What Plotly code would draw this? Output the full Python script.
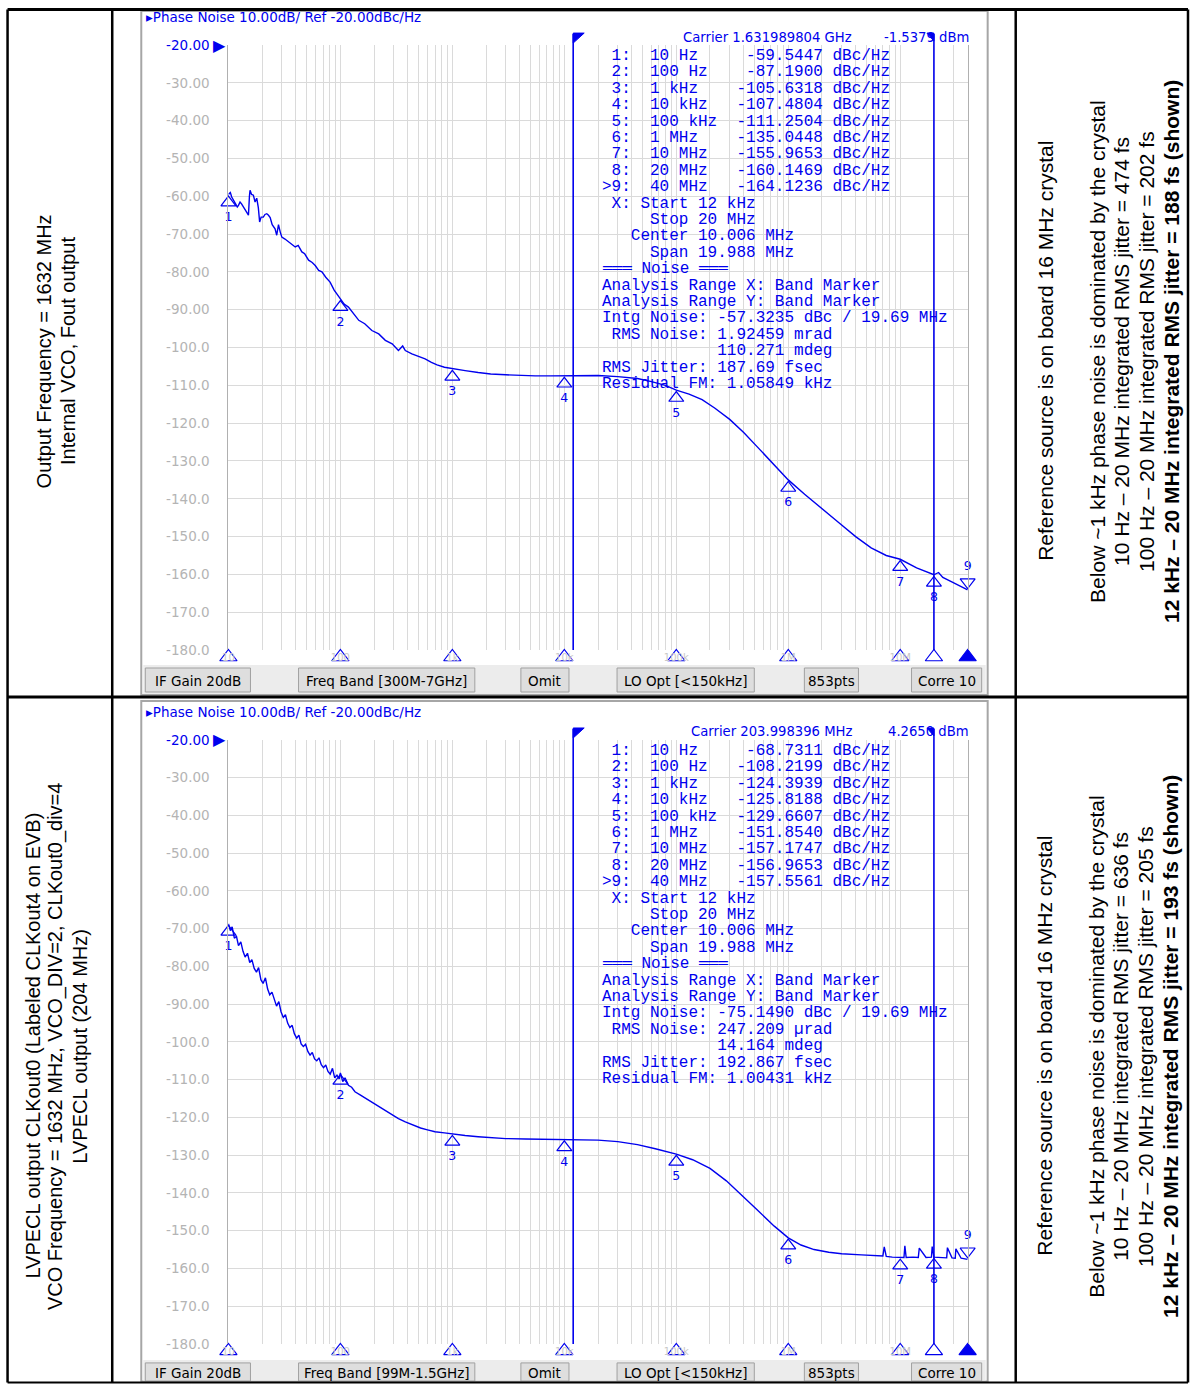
import plotly.graph_objects as go

W, H = 1190, 1391
# the page is captured with the 8px body margin and fitted back into W x H
SX, SY, M = 1190 / 1198, 1391 / 1407, 8


def px(x):
    return (x / SX - M) / W


def py(y):
    return 1 - (y / SY - M) / H


# ---------------- data ----------------
top_freq = [10, 10.4, 10.7, 11.1, 11.5, 12.0, 12.3, 12.7, 13.1, 13.6, 14.1, 14.6, 15.1, 15.4, 15.6,
            16.1, 16.7, 17.3, 17.9, 18.5, 19.0, 19.6, 20.5, 21.2, 22.0, 22.8, 23.6, 24.6, 26.1, 27.0,
            28.0, 29.0, 30.0, 32.0, 34.4, 36.5, 39.5, 42, 45.3, 48, 52, 56, 59.6, 64, 68.4, 74, 80.9,
            88, 96.3, 100, 108, 118, 130, 146, 165, 191, 220, 252, 290, 330, 360, 380, 435, 500, 571,
            650, 730, 850, 1000, 1300, 1700, 2200, 3000, 4000, 5500, 7500, 10000, 15000, 20000, 30000,
            45000, 60000, 80000, 100000, 130000, 170000, 220000, 300000, 400000, 550000, 750000,
            1000000, 1400000, 2000000, 2800000, 4000000, 5500000, 7500000, 10000000, 14000000,
            20000000, 22000000, 24000000, 28000000, 33000000, 37000000, 40000000]
top_dbc = [-59.5, -59.0, -60.2, -61.0, -61.9, -62.8, -62.4, -61.5, -62.0, -62.8, -63.3, -64.0, -65.0,
           -60.0, -58.4, -59.5, -59.7, -61.5, -60.5, -63.0, -66.8, -65.5, -65.5, -64.8, -64.6, -65.0,
           -65.6, -67.5, -68.6, -70.3, -67.5, -69.4, -70.8, -71.3, -72.1, -72.5, -73.4, -73.0, -74.7,
           -75.2, -76.9, -77.5, -78.3, -79.6, -80.0, -81.4, -82.7, -84.8, -86.5, -87.2, -88.5, -89.3,
           -91.0, -92.8, -93.7, -95.5, -96.4, -98.1, -99.0, -100.8, -99.6, -100.8, -101.7, -102.3,
           -103.0, -103.9, -104.6, -105.2, -105.6, -106.1, -106.6, -107.0, -107.2, -107.4, -107.5,
           -107.5, -107.5, -107.4, -107.4, -107.7, -108.2, -109.0, -110.0, -111.25, -112.3, -113.8,
           -116.0, -119.0, -122.5, -126.8, -131.0, -135.0, -138.8, -142.5, -146.2, -150.0, -153.0,
           -155.0, -156.0, -158.3, -160.1, -159.5, -160.8, -161.8, -162.8, -163.5, -164.1]

bot_freq = [10, 10.4, 10.8, 11.3, 11.8, 12.3, 12.9, 13.5, 14.1, 14.8, 15.5, 16.2, 17.0, 17.8, 18.6,
            19.5, 20.4, 21.4, 22.4, 23.4, 24.5, 25.7, 26.9, 28.2, 29.5, 30.9, 32.3, 33.8, 35.4, 37.1,
            38.8, 40.7, 42.6, 44.6, 46.7, 48.9, 51.2, 53.6, 56.1, 58.8, 61.5, 64.4, 67.5, 70.7, 74,
            77.5, 81.1, 85, 89, 93.2, 97.6, 100, 105, 110, 118, 126, 135, 150, 170, 190, 220, 250, 290,
            330, 380, 440, 520, 600, 700, 850, 1000, 1300, 1700, 2200, 3000, 4500, 7000, 10000, 15000,
            20000, 30000, 45000, 65000, 100000, 140000, 200000, 280000, 400000, 550000, 750000,
            1000000, 1300000, 1700000, 2300000, 3000000, 4500000, 6500000, 7000000, 7200000, 7500000,
            8500000, 10000000, 10800000, 11000000, 11300000, 13000000, 14500000, 14800000, 17000000,
            19000000, 19300000, 20000000, 23000000, 26000000, 26400000, 29000000, 31000000, 31400000,
            35000000, 40000000]
bot_dbc = [-68.7, -70.5, -69.5, -72.5, -72.0, -74.5, -73.5, -76.0, -77.5, -76.5, -79.0, -78.2, -80.5,
           -81.5, -80.3, -83.5, -84.5, -83.0, -86.0, -87.5, -86.8, -89.0, -90.5, -89.3, -92.0, -93.5,
           -92.8, -95.0, -96.2, -95.6, -97.8, -99.0, -98.2, -100.5, -101.2, -100.6, -102.5, -103.5,
           -102.8, -104.5, -105.0, -104.2, -106.0, -106.8, -106.1, -107.8, -108.5, -107.0, -109.5,
           -108.8, -109.8, -108.2, -110.5, -109.5, -111.5, -112.0, -113.2, -114.0, -115.0, -116.0,
           -117.2, -118.2, -119.3, -120.3, -121.2, -122.0, -122.8, -123.3, -123.8, -124.1, -124.4,
           -124.8, -125.1, -125.4, -125.6, -125.7, -125.8, -125.8, -125.9, -126.0, -126.4, -127.2,
           -128.3, -129.7, -131.2, -133.5, -136.8, -141.0, -145.0, -148.8, -151.9, -153.8, -155.0,
           -155.7, -156.1, -156.4, -156.7, -156.7, -154.3, -156.8, -157.0, -157.2, -157.1, -154.0,
           -157.1, -157.0, -157.1, -154.6, -157.1, -157.0, -154.2, -157.0, -157.1, -157.2, -154.5,
           -157.2, -157.3, -154.8, -157.3, -157.6]

marker_freq = [10, 100, 1e3, 1e4, 1e5, 1e6, 1e7, 2e7, 4e7]
marker_freq_labels = ["10 Hz", "100 Hz", "1 kHz", "10 kHz", "100 kHz", "1 MHz", "10 MHz", "20 MHz", "40 MHz"]
top_marker_vals = [-59.5447, -87.1900, -105.6318, -107.4804, -111.2504, -135.0448, -155.9653, -160.1469, -164.1236]
bot_marker_vals = [-68.7311, -108.2199, -124.3939, -125.8188, -129.6607, -151.8540, -157.1747, -156.9653, -157.5561]

axis_marker_freq = [10, 100, 1e3, 1e4, 1e5, 1e6, 1e7, 2e7, 4e7]
band_start, band_stop = 12e3, 20e6

ytick_vals = [-20, -30, -40, -50, -60, -70, -80, -90, -100, -110, -120, -130, -140, -150, -160, -170, -180]
ytick_text = ["-20.00", "-30.00", "-40.00", "-50.00", "-60.00", "-70.00", "-80.00", "-90.00", "-100.0",
              "-110.0", "-120.0", "-130.0", "-140.0", "-150.0", "-160.0", "-170.0", "-180.0"]
decade_vals = [10, 100, 1e3, 1e4, 1e5, 1e6, 1e7]
decade_text = ["10", "100", "1k", "10k", "100k", "1M", "10M"]

panels = [
    dict(freq=top_freq, dbc=top_dbc, mvals=top_marker_vals,
         carrier="Carrier 1.631989804 GHz", power="-1.5379 dBm",
         band="Freq Band [300M-7GHz]",
         noise=["Intg Noise: -57.3235 dBc / 19.69 MHz", " RMS Noise: 1.92459 mrad",
                "            110.271 mdeg", "RMS Jitter: 187.69 fsec", "Residual FM: 1.05849 kHz"],
         left=["Output Frequency = 1632 MHz", "Internal VCO, Fout output"],
         right=["Reference source is on board 16 MHz crystal", "",
                "Below ~1 kHz phase noise is dominated by the crystal",
                "10 Hz \u2013 20 MHz integrated RMS jitter = 474 fs",
                "100 Hz \u2013 20 MHz integrated RMS jitter = 202 fs",
                "<b>12 kHz \u2013 20 MHz integrated RMS jitter = 188 fs (shown)</b>"]),
    dict(freq=bot_freq, dbc=bot_dbc, mvals=bot_marker_vals,
         carrier="Carrier 203.998396 MHz", power="4.2650 dBm",
         band="Freq Band [99M-1.5GHz]",
         noise=["Intg Noise: -75.1490 dBc / 19.69 MHz", " RMS Noise: 247.209 \u00b5rad",
                "            14.164 mdeg", "RMS Jitter: 192.867 fsec", "Residual FM: 1.00431 kHz"],
         left=["LVPECL output CLKout0 (Labeled CLKout4 on EVB)",
               "VCO Frequency = 1632 MHz, VCO_DIV=2, CLKout0_div=4",
               "LVPECL output (204 MHz)"],
         right=["Reference source is on board 16 MHz crystal", "",
                "Below ~1 kHz phase noise is dominated by the crystal",
                "10 Hz \u2013 20 MHz integrated RMS jitter = 636 fs",
                "100 Hz \u2013 20 MHz integrated RMS jitter = 205 fs",
                "<b>12 kHz \u2013 20 MHz integrated RMS jitter = 193 fs (shown)</b>"]),
]

BLUE = "#0000ee"
GRID = "#dadada"
UI = "DejaVu Sans"
MONO = "Liberation Mono"
SANS = "Liberation Sans"

xgrid = [m * 10 ** e for e in range(1, 8) for m in range(1, 10) if m * 10 ** e <= 4e7]
xgrid_text = [decade_text[decade_vals.index(v)] if v in decade_vals else "" for v in xgrid]

fig = go.Figure()
shapes = []
annotations = []

# table lines (clamped to the drawable page area)
L, R, T, B = 9.5, 1188, 9.5, 1382.6
for (x0, y0, x1, y1, w) in [(L, T, R, T, 3), (L, 697, R, 697, 3), (L, B, R, B, 2),
                            (L, T, L, B, 2.5), (114, T, 114, B, 2.5), (1016, T, 1016, B, 2.5),
                            (R, T, R, B, 2.5)]:
    shapes.append(dict(type="line", xref="paper", yref="paper", x0=px(x0), x1=px(x1), y0=py(y0), y1=py(y1),
                       line=dict(color="black", width=w), layer="above"))

buttons = [("IF Gain 20dB", 147, 252), (None, 300, 476), ("Omit", 522, 570), ("LO Opt [<150kHz]", 618, 755),
           ("853pts", 805, 859), ("Corre 10", 912, 982)]

for i, p in enumerate(panels):
    off = 695 * i
    xa = "x" if i == 0 else "x2"
    ya = "y" if i == 0 else "y2"
    axkey = "" if i == 0 else "2"
    top_px, bot_px = 45 + off, 650 + off - (1 if i else 0)
    fbot = min(695 + off, B - 1)
    bbot = min(692 + off, B - 1.5)
    btxt = 681 + off if i == 0 else 1373.5

    # panel frame & button bar
    shapes.append(dict(type="rect", xref="paper", yref="paper", x0=px(143), x1=px(988),
                       y0=py(6 + off if i else 11), y1=py(fbot), line=dict(color="#a6a6a6", width=2),
                       fillcolor="white", layer="below"))
    shapes.append(dict(type="rect", xref="paper", yref="paper", x0=px(145), x1=px(986), y0=py(665 + off),
                       y1=py(fbot - 1), line=dict(width=0), fillcolor="#ececec", layer="below"))
    for lab, bx0, bx1 in buttons:
        lab = p["band"] if lab is None else lab
        shapes.append(dict(type="rect", xref="paper", yref="paper", x0=px(bx0), x1=px(bx1), y0=py(668 + off),
                           y1=py(bbot), line=dict(color="#a0a0a0", width=1), fillcolor="#dedede",
                           layer="below"))
        annotations.append(dict(xref="paper", yref="paper", x=px((bx0 + bx1) / 2), y=py(btxt), text=lab,
                                showarrow=False, font=dict(family=UI, size=13.5, color="black"),
                                xanchor="center", yanchor="middle"))

    # curve
    fig.add_trace(go.Scatter(x=p["freq"], y=p["dbc"], mode="lines", xaxis=xa, yaxis=ya,
                             line=dict(color=BLUE, width=1.4), hoverinfo="skip"))
    # markers
    syms = ["triangle-up-open"] * 8 + ["triangle-down-open"]
    ys = [v - 2.1 for v in p["mvals"][:8]] + [p["mvals"][8] + 2.1]
    fig.add_trace(go.Scatter(x=marker_freq, y=ys, mode="markers+text", xaxis=xa, yaxis=ya,
                             text=[str(k + 1) for k in range(9)],
                             textposition=["bottom center"] * 8 + ["top center"],
                             textfont=dict(family=UI, size=12.5, color=BLUE),
                             marker=dict(symbol=syms, size=13, color=BLUE, line=dict(width=1.2, color=BLUE)),
                             cliponaxis=False, hoverinfo="skip"))
    # axis triangles under the -180 line
    fig.add_trace(go.Scatter(x=axis_marker_freq, y=[-180] * 9, mode="markers", xaxis=xa, yaxis=ya,
                             marker=dict(symbol=["triangle-up-open"] * 8 + ["triangle-up"], size=15, color=BLUE,
                                         standoff=7, line=dict(width=1.2, color=BLUE)),
                             cliponaxis=False, hoverinfo="skip"))

    # band marker lines and flags
    for k, f in enumerate([band_start, band_stop]):
        shapes.append(dict(type="line", xref=xa, yref="paper", x0=f, x1=f, y0=py(34 + off), y1=py(bot_px),
                           line=dict(color=BLUE, width=1.6), layer="above"))
        path = (f"M0,{py(33 + off)} L11,{py(33 + off)} L0,{py(43 + off)} Z" if k == 0 else
                f"M0,{py(33 + off)} L-7,{py(33 + off)} L0,{py(41 + off)} Z")
        shapes.append(dict(type="path", xref=xa, yref="paper", xsizemode="pixel", xanchor=f, path=path,
                           fillcolor=BLUE, line=dict(color=BLUE, width=1), layer="above"))

    # texts in the instrument screen
    annotations.append(dict(xref="paper", yref="paper", x=px(146), y=py(17 + off),
                            text="\u25b8Phase Noise 10.00dB/ Ref -20.00dBc/Hz", showarrow=False,
                            font=dict(family=UI, size=13.5, color=BLUE), xanchor="left", yanchor="middle"))
    annotations.append(dict(xref="paper", yref="paper", x=px(230), y=py(top_px), text="\u25b6",
                            showarrow=False, font=dict(family=UI, size=16, color=BLUE),
                            xanchor="right", yanchor="middle"))
    annotations.append(dict(xref="paper", yref="paper", x=px(855), y=py(37 + off), text=p["carrier"],
                            showarrow=False, font=dict(family=UI, size=13.2, color=BLUE),
                            xanchor="right", yanchor="middle"))
    annotations.append(dict(xref="paper", yref="paper", x=px(971), y=py(37 + off), text=p["power"],
                            showarrow=False, font=dict(family=UI, size=13.2, color=BLUE),
                            xanchor="right", yanchor="middle"))

    lines = []
    for k in range(9):
        lab = (">9:" if k == 8 else f" {k + 1}:")
        lab = lab + "  " + marker_freq_labels[k]
        val = f"{p['mvals'][k]:.4f}"
        lab = lab.ljust(23 - len(val)) + val + " dBc/Hz"
        lines.append(lab)
    lines += [" X: Start 12 kHz", "     Stop 20 MHz", "   Center 10.006 MHz", "     Span 19.988 MHz",
              "\u2550\u2550\u2550 Noise \u2550\u2550\u2550",
              "Analysis Range X: Band Marker", "Analysis Range Y: Band Marker"] + p["noise"]
    for k, s in enumerate(lines):
        annotations.append(dict(xref="paper", yref="paper", x=px(601), y=py(56 + off + 16.4 * k),
                                text=s.replace(" ", "\u00a0"), showarrow=False,
                                font=dict(family=MONO, size=16, color=BLUE), xanchor="left", yanchor="middle"))

    # side column texts
    n = len(p["left"])
    for k, s in enumerate(p["left"]):
        annotations.append(dict(xref="paper", yref="paper", x=px(58 + (k - (n - 1) / 2) * 23.5),
                                y=py(351 + off), text=s, textangle=-90, showarrow=False,
                                font=dict(family=SANS, size=20, color="black"),
                                xanchor="center", yanchor="middle"))
    for k, s in enumerate(p["right"]):
        if not s:
            continue
        xs = [1045, 0, 1097, 1121, 1146, 1171][k]
        annotations.append(dict(xref="paper", yref="paper", x=px(xs), y=py(351 + off), text=s, textangle=-90,
                                showarrow=False, font=dict(family=SANS, size=21, color="black"),
                                xanchor="center", yanchor="middle"))

    yt = list(ytick_text)
    yt[0] = f'<span style="color:{BLUE}">-20.00</span>'
    fig.layout["xaxis" + axkey] = dict(
        type="log", range=[1, 7.60206], domain=[px(230), px(968)], anchor=ya,
        tickvals=xgrid, ticktext=xgrid_text, showgrid=True, gridcolor=GRID, gridwidth=1,
        ticks="", tickfont=dict(family=UI, size=10, color="#c8c8c8"), showline=False, zeroline=False,
        fixedrange=True)
    fig.layout["yaxis" + axkey] = dict(
        range=[-180, -20], domain=[py(bot_px), py(top_px)], anchor=xa,
        tickvals=ytick_vals, ticktext=yt, showgrid=True, gridcolor=GRID, gridwidth=1,
        ticks="outside", ticklen=15, tickcolor="rgba(0,0,0,0)",
        tickfont=dict(family=UI, size=13.5, color="#b4b4b4"), showline=True, mirror=True,
        linecolor="#b0b0b0", linewidth=1.2, zeroline=False, fixedrange=True)

fig.update_layout(width=W, height=H, margin=dict(l=0, r=0, t=0, b=0), paper_bgcolor="white",
                  plot_bgcolor="white", showlegend=False, shapes=shapes, annotations=annotations,
                  hovermode=False)

fig.write_html("out.html", config={"displayModeBar": False},
               post_script="document.body.style.margin='0';document.body.style.overflow='hidden';")
